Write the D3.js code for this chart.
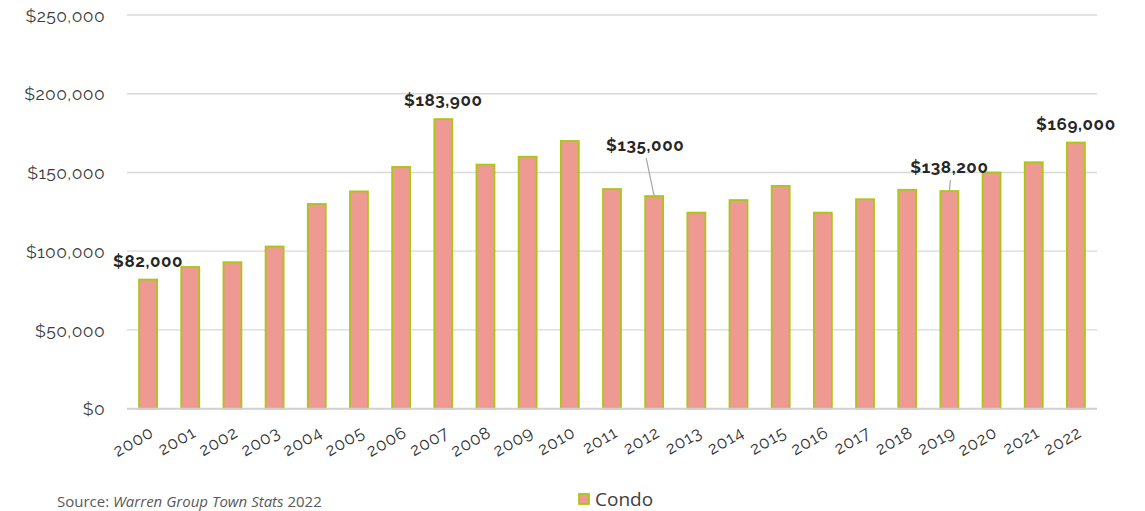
<!DOCTYPE html>
<html>
<head>
<meta charset="utf-8">
<script src="https://cdn.jsdelivr.net/npm/d3@7"></script>
<style>
  html, body { margin: 0; padding: 0; background: #fff; }
  svg { display: block; }
</style>
</head>
<body>
<svg id="chart" width="1145" height="511"></svg>
<script>
const years = ["2000","2001","2002","2003","2004","2005","2006","2007","2008","2009","2010","2011",
               "2012","2013","2014","2015","2016","2017","2018","2019","2020","2021","2022"];
const condoPrices = [82000, 90000, 93000, 103000, 130000, 138000, 153500, 183900, 155000, 160000, 170000, 139500,
                     135000, 124500, 132500, 141500, 124500, 133000, 139000, 138200, 150000, 156500, 169000];
const yTicks = [0, 50000, 100000, 150000, 200000, 250000];
const labeledYears = ["2000", "2007", "2012", "2019", "2022"];
const seriesName = "Condo";
const sourceNote = ["Source: ", "Warren Group Town Stats", " 2022"];

const W = 1145, H = 511;
const plot = { left: 127, right: 1097, top: 15, bottom: 408.7 };
const svg = d3.select("#chart");

const x = d3.scaleBand().domain(years).range([plot.left, plot.right])
  .paddingInner(0.573).paddingOuter(0.2865);
const y = d3.scaleLinear().domain([0, 250000]).range([plot.bottom, plot.top]);

const fmt = d3.format("$,");
const baseFont = "Raleway, Lato, 'Open Sans', sans-serif";

// gridlines
svg.append("g")
  .selectAll("line").data(yTicks.filter(d => d > 0)).join("line")
  .attr("x1", plot.left).attr("x2", plot.right)
  .attr("y1", d => y(d)).attr("y2", d => y(d))
  .attr("stroke", "#d9d9d9").attr("stroke-width", 1.3);

// y axis
const yAxis = svg.append("g")
  .attr("transform", `translate(${plot.left - 22},0)`)
  .call(d3.axisLeft(y).tickValues(yTicks).tickFormat(fmt).tickSize(0).tickPadding(0));
yAxis.select(".domain").remove();
yAxis.selectAll("text")
  .attr("font-family", baseFont).attr("font-size", 17.5).attr("letter-spacing", "0.4px")
  .attr("fill", "#3a3a3a").attr("dy", "0.35em");

// bars
svg.append("g")
  .selectAll("rect").data(years).join("rect")
  .attr("x", (d) => x(d))
  .attr("width", x.bandwidth())
  .attr("y", (d, i) => y(condoPrices[i]))
  .attr("height", (d, i) => plot.bottom - y(condoPrices[i]))
  .attr("fill", "#ee9a92")
  .attr("stroke", "#a8c814")
  .attr("stroke-width", 1.8);

// baseline axis
svg.append("line")
  .attr("x1", plot.left).attr("x2", plot.right)
  .attr("y1", plot.bottom).attr("y2", plot.bottom)
  .attr("stroke", "#d0d0d0").attr("stroke-width", 2);

// x axis labels
const xAxis = svg.append("g")
  .attr("transform", `translate(0,${plot.bottom})`)
  .call(d3.axisBottom(x).tickSize(0).tickPadding(0));
xAxis.select(".domain").remove();
xAxis.selectAll("text")
  .attr("font-family", baseFont).attr("font-size", 17).attr("letter-spacing", "0.8px")
  .attr("fill", "#333333")
  .attr("text-anchor", "end")
  .attr("dy", 0)
  .attr("transform", "translate(7,27) rotate(-30)");

// data labels
const labelOffsets = { "2012": [-9, -45], "2019": [0, -18] };
const lbl = svg.append("g");
labeledYears.forEach(yr => {
  const i = years.indexOf(yr);
  const cx = x(yr) + x.bandwidth() / 2;
  const top = y(condoPrices[i]);
  const off = labelOffsets[yr] || [0, -13];
  if (labelOffsets[yr]) {
    lbl.append("line")
      .attr("x1", cx + off[0] + 1).attr("y1", top + off[1] + 7)
      .attr("x2", cx).attr("y2", top)
      .attr("stroke", "#a6a6a6").attr("stroke-width", 1.2);
  }
  lbl.append("text")
    .attr("x", cx + off[0]).attr("y", top + off[1])
    .attr("text-anchor", "middle")
    .attr("font-family", baseFont).attr("font-weight", "bold")
    .attr("font-size", 17).attr("letter-spacing", "0.6px")
    .attr("fill", "#262626")
    .text(fmt(condoPrices[i]));
});

// legend
const lg = svg.append("g").attr("transform", "translate(578,493)");
lg.append("rect").attr("x", 1).attr("y", 1).attr("width", 10).attr("height", 10)
  .attr("fill", "#ee9a92").attr("stroke", "#a8c814").attr("stroke-width", 1.8);
lg.append("text").attr("x", 17).attr("y", 12.5)
  .attr("font-family", "'Open Sans', sans-serif").attr("font-size", 19)
  .attr("fill", "#404040").text(seriesName);

// source note
const src = svg.append("text").attr("x", 57).attr("y", 507)
  .attr("font-family", "'Open Sans', sans-serif").attr("font-size", 15)
  .attr("fill", "#595959");
src.append("tspan").text(sourceNote[0]);
src.append("tspan").attr("font-style", "italic").text(sourceNote[1]);
src.append("tspan").text(sourceNote[2]);
</script>
</body>
</html>
